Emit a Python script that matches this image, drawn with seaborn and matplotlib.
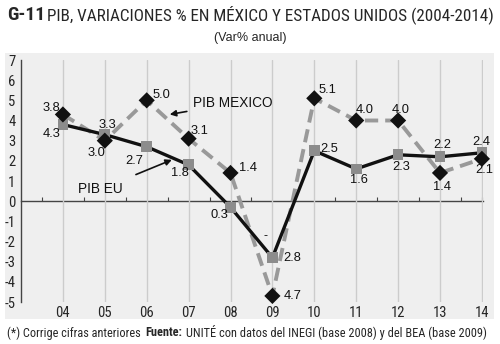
import matplotlib
matplotlib.use("Agg")
import matplotlib.pyplot as plt
import seaborn as sns
import pandas as pd
from matplotlib.patches import Rectangle
from matplotlib import font_manager as fm

sns.set_style("white")

# ---- data ----
years = [2004, 2005, 2006, 2007, 2008, 2009, 2010, 2011, 2012, 2013, 2014]
year_labels = ["04", "05", "06", "07", "08", "09", "10", "11", "12", "13", "14"]
pib_mexico = [4.3, 3.0, 5.0, 3.1, 1.4, -4.7, 5.1, 4.0, 4.0, 1.4, 2.1]
pib_eu = [3.8, 3.3, 2.7, 1.8, -0.3, -2.8, 2.5, 1.6, 2.3, 2.2, 2.4]

# label offsets (pixels) for value labels
mex_off = [(-11, -20), (-8, -12), (15, 5), (11, 8), (17, 5), (20, 0),
           (13, 8), (8, 11), (3, 11), (2, -14), (2, -11)]
eu_off = [(-11, 17), (3, 10), (-12, -14), (-9, -8), (-11, -8), (20, 0),
          (15, 2), (3, -11), (3, -12), (2, 12), (-1, 11)]

avail = {f.name for f in fm.fontManager.ttflist}
narrow = "DejaVu Sans"
for cand in ["Liberation Sans Narrow", "Roboto Condensed", "Open Sans Condensed",
             "Noto Sans Condensed", "Roboto", "Liberation Sans"]:
    if cand in avail:
        narrow = cand
        break
sans = "Liberation Sans" if "Liberation Sans" in avail else "DejaVu Sans"
plt.rcParams["font.family"] = [sans, "DejaVu Sans"]
NF = [narrow, "DejaVu Sans"]

df = pd.DataFrame({"year": years, "mex": pib_mexico, "eu": pib_eu})

W, H = 500, 344
fig = plt.figure(figsize=(W / 100, H / 100), dpi=100, facecolor="white")

# gray panel
fig.patches.append(Rectangle((5 / W, 1 - 319 / H), 489 / W, (319 - 53) / H,
                             transform=fig.transFigure, facecolor="#efefef",
                             edgecolor="none", zorder=-5))

x0, x1 = 2003, 2014.03
ax = fig.add_axes([21 / W, 1 - 302 / H, (41.9 * (x1 - x0)) / W, (302 - 60) / H])
ax.set_zorder(3)
ax.set_facecolor("none")
ax.set_xlim(x0, x1)
ax.set_ylim(-5, 7)

# vertical gridlines
for yr in years:
    ax.axvline(yr, color="#cccccc", lw=1.0, zorder=1)

# zero line with half-year ticks
sec = ax.secondary_xaxis(5 / 12)
sec.set_xticks([y - 0.5 for y in years] + [2014])
sec.tick_params(axis="x", direction="in", length=3, width=0.8, color="#444444",
                labelbottom=False, labeltop=False)
sec.spines["bottom"].set_color("#444444")
sec.spines["bottom"].set_linewidth(1.0)

# lines
sns.lineplot(data=df, x="year", y="mex", ax=ax, color="#999999", lw=2.8,
             linestyle=(0, (3.4, 1.8)), zorder=3, clip_on=False)
sns.lineplot(data=df, x="year", y="eu", ax=ax, color="#111111", lw=2.4,
             zorder=4, clip_on=False)
sns.scatterplot(data=df, x="year", y="eu", ax=ax, marker="s", s=60,
                color="#8c8c8c", edgecolor="none", zorder=5, clip_on=False)
sns.scatterplot(data=df, x="year", y="mex", ax=ax, marker="D", s=68,
                color="#111111", edgecolor="none", zorder=6, clip_on=False)

# value labels
for yr, v, off in zip(years, pib_mexico, mex_off):
    ax.annotate(f"{abs(v):.1f}", (yr, v), xytext=off, textcoords="offset pixels",
                ha="center", va="center", fontsize=9.3, color="#111111", zorder=7)
for yr, v, off in zip(years, pib_eu, eu_off):
    ax.annotate(f"{abs(v):.1f}", (yr, v), xytext=off, textcoords="offset pixels",
                ha="center", va="center", fontsize=9.3, color="#111111", zorder=7)
ax.annotate("-", (2009, -2.8), xytext=(-7, 22), textcoords="offset pixels",
            ha="center", va="center", fontsize=9, color="#111111")

# series annotations
ax.annotate("PIB MEXICO", xy=(2006.55, 4.3), xytext=(2008.05, 4.85),
            ha="center", va="center", fontsize=9.8, color="#111111",
            arrowprops=dict(arrowstyle="-|>", color="#111111", lw=1.2,
                            mutation_scale=9, shrinkA=2, shrinkB=0))
ax.annotate("PIB EU", xy=(2006.6, 2.05), xytext=(2004.9, 0.6),
            ha="center", va="center", fontsize=9.8, color="#111111",
            arrowprops=dict(arrowstyle="-|>", color="#111111", lw=1.2,
                            mutation_scale=9, shrinkA=8, shrinkB=0))

# axes styling
for s in ["top", "right", "bottom"]:
    ax.spines[s].set_visible(False)
ax.spines["left"].set_color("#444444")
ax.spines["left"].set_linewidth(1.0)
ax.set_yticks(range(-5, 8))
ax.set_yticklabels([str(v) for v in range(-5, 8)])
ax.tick_params(axis="y", direction="out", length=3, width=0.8, color="#444444", pad=1)
ax.set_xticks(years)
ax.set_xticklabels(year_labels)
ax.tick_params(axis="x", length=0, pad=3)
ax.set_xlabel("")
ax.set_ylabel("")
for lab in ax.get_xticklabels() + ax.get_yticklabels():
    lab.set_family(NF)
    lab.set_fontsize(10.5)

renderer = fig.canvas.get_renderer()


def fit(t, target_px):
    for _ in range(4):
        w = t.get_window_extent(renderer).width
        if w <= 0:
            break
        t.set_fontsize(t.get_fontsize() * target_px / w)


# titles
t1 = fig.text(7 / W, 1 - 15 / H, "G-11", fontsize=13.5, fontweight="bold",
              family=NF, ha="left", va="center")
fit(t1, 38)
t2 = fig.text(47 / W, 1 - 15 / H,
              "PIB, VARIACIONES % EN MÉXICO Y ESTADOS UNIDOS (2004-2014)",
              fontsize=13.5, family=NF, ha="left", va="center")
fit(t2, 448)
fig.text(250 / W, 1 - 38 / H, "(Var% anual)", fontsize=9, ha="center",
         va="center")

# footer
f1 = fig.text(7 / W, 1 - 333 / H, "(*) Corrige cifras anteriores", fontsize=9.5,
              family=NF, ha="left", va="center")
fit(f1, 133)
f2 = fig.text(145 / W, 1 - 333 / H, "Fuente:", fontsize=9.5, fontweight="bold",
              family=NF, ha="left", va="center")
fit(f2, 37)
f3 = fig.text(186 / W, 1 - 333 / H,
              "UNITÉ con datos del INEGI (base 2008) y del BEA (base 2009)",
              fontsize=9.5, family=NF, ha="left", va="center")
fit(f3, 302)

fig.savefig("out.png", dpi=100, facecolor="white")
